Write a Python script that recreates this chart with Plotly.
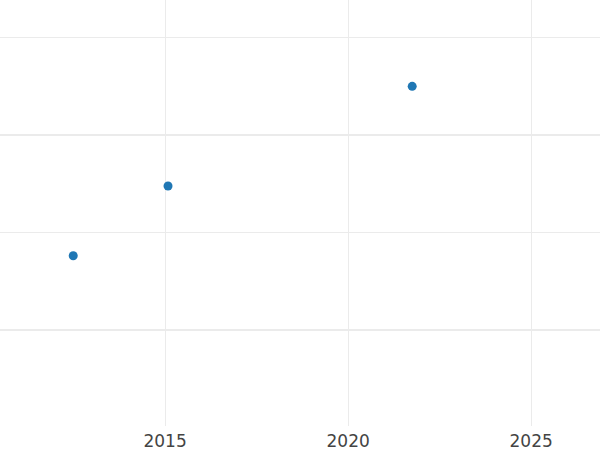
import plotly.graph_objects as go

years = [2012.49, 2015.08, 2021.75]
values = [3.8, 7.39, 12.51]

fig = go.Figure()
fig.add_trace(go.Scatter(x=years, y=values, mode="markers",
                         marker=dict(color="#1f77b4", size=9)))

grid = "#ebebeb"
fig.update_layout(
    width=600, height=450,
    margin=dict(l=0, r=0, t=0, b=24),
    plot_bgcolor="white", paper_bgcolor="white",
    showlegend=False,
    font=dict(family="DejaVu Sans", size=17, color="#444"),
)
fig.update_xaxes(range=[2010.49, 2026.88], tickvals=[2015, 2020, 2025],
                 showgrid=True, gridcolor=grid, gridwidth=1,
                 zeroline=False, showline=False, ticks="", ticklabelstandoff=3)
fig.update_yaxes(range=[-4.95, 16.95], dtick=10, tick0=0,
                 showticklabels=False, showgrid=True, gridcolor=grid, gridwidth=2,
                 minor=dict(dtick=5, tick0=0, showgrid=True, gridcolor=grid, gridwidth=1),
                 zeroline=False, showline=False, ticks="")

fig.write_html("out.html", config={"displayModeBar": False},
               post_script="document.body.style.margin='0';")
